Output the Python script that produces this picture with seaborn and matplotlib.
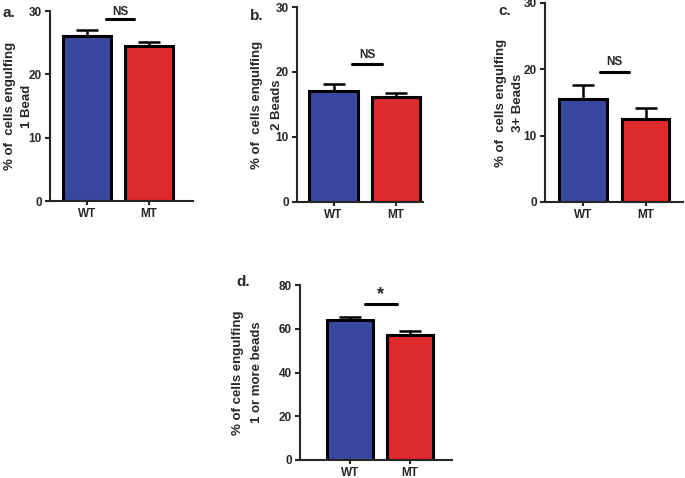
import numpy as np
import pandas as pd
import matplotlib.pyplot as plt
import seaborn as sns

###################################################################
# data
###################################################################

groups = ['WT', 'MT']

one_bead = [26.0, 24.5]
one_bead_err = [1.0, 0.6]

two_beads = [17.1, 16.2]
two_beads_err = [1.0, 0.6]

three_beads = [15.6, 12.5]
three_beads_err = [2.1, 1.7]

any_beads = [64.0, 57.2]
any_beads_err = [1.6, 1.9]

panel_labels = ['a.', 'b.', 'c.', 'd.']
y_label_top = ['% of  cells engulfing', '% of  cells engulfing',
               '% of  cells engulfing', '% of cells engulfing']
y_label_bottom = ['1 Bead', '2 Beads', '3+ Beads', '1 or more beads']
sig_text = ['NS', 'NS', 'NS', '*']

colors = ['#3a479f', '#de2a2a']

###################################################################
# setup
###################################################################

sns.set_style('ticks')
plt.rcParams['font.family'] = ['Liberation Sans', 'DejaVu Sans']
plt.rcParams['font.weight'] = 'bold'

W, H = 685, 478
fig = plt.figure(figsize=(W / 100, H / 100), dpi=100)


def px_axes(x0, x1, ytop, ybot):
    # pixel box -> figure fraction
    return fig.add_axes([x0 / W, 1 - ybot / H, (x1 - x0) / W, (ybot - ytop) / H])


def make_panel(ax, vals, errs, ymax, ystep, xlim, width, i, lab_x,
               sig_x, sig_y, txt_y, txt_size):
    df = pd.DataFrame({'group': groups, 'value': vals})
    sns.barplot(data=df, x='group', y='value', hue='group', palette=colors,
                edgecolor='black', linewidth=2.2, width=width, legend=False,
                errorbar=None, ax=ax, saturation=1)
    # GraphPad style: only the upper half of the error bar
    ax.errorbar([0, 1], vals, yerr=[[0, 0], errs], fmt='none', ecolor='black',
                elinewidth=1.8, capsize=8, capthick=1.8, zorder=1)
    for p in ax.patches:
        p.set_zorder(2)
    ax.set_ylim(0, ymax)
    ax.set_yticks(np.arange(0, ymax + 1, ystep))
    ax.set_xlim(*xlim)
    ax.set_xlabel('')
    # two line y label
    ax.set_ylabel(y_label_top[i], fontsize=9.5, fontweight='bold')
    ax.yaxis.label.set_verticalalignment('center')
    ax.yaxis.set_label_coords(lab_x[0], 0.5)
    ax.text(lab_x[1], 0.5, y_label_bottom[i], transform=ax.transAxes,
            rotation=90, ha='center', va='center', rotation_mode='anchor',
            fontsize=9.5, fontweight='bold')
    sns.despine(ax=ax)
    for s in ['left', 'bottom']:
        ax.spines[s].set_linewidth(1.5)
    ax.tick_params(axis='y', length=3.5, width=1.5, labelsize=8.5, pad=2.5)
    ax.tick_params(axis='x', length=3, width=1.5, labelsize=8.5, pad=2)
    for t in ax.get_xticklabels() + ax.get_yticklabels():
        t.set_fontweight('bold')
    ax.plot(sig_x, [sig_y, sig_y], color='black', lw=2.2, clip_on=False)
    ax.text(np.mean(sig_x), txt_y, sig_text[i], ha='center', va='center',
            fontsize=txt_size, fontweight='bold', clip_on=False)


###################################################################
# panels
###################################################################

ax_a = px_axes(50, 193, 11, 201)
make_panel(ax_a, one_bead, one_bead_err, 30, 10, (-0.6, 1.71), 0.77,
           0, (-0.280, -0.161), [0.31, 0.76], 28.7, 29.9, 8.5)

ax_b = px_axes(297, 423, 7, 202)
make_panel(ax_b, two_beads, two_beads_err, 30, 10, (-0.584, 1.43), 0.78,
           1, (-0.317, -0.159), [0.30, 0.78], 21.2, 22.6, 8.5)

ax_c = px_axes(545, 683, 3, 202)
make_panel(ax_c, three_beads, three_beads_err, 30, 10, (-0.61, 1.6), 0.76,
           2, (-0.319, -0.196), [0.27, 0.74], 19.6, 21.1, 8.5)

ax_d = px_axes(300, 452, 285, 460)
make_panel(ax_d, any_beads, any_beads_err, 80, 20, (-0.83, 1.7), 0.77,
           3, (-0.408, -0.283), [0.25, 0.78], 71.3, 75.5, 13)

# panel letters
for lab, (x, y) in zip(panel_labels, [(9, 13), (257, 16), (505, 11), (243, 282)]):
    fig.text(x / W, 1 - y / H, lab, ha='center', va='center',
             fontsize=11, fontweight='bold')

plt.savefig('out.png', dpi=100)
